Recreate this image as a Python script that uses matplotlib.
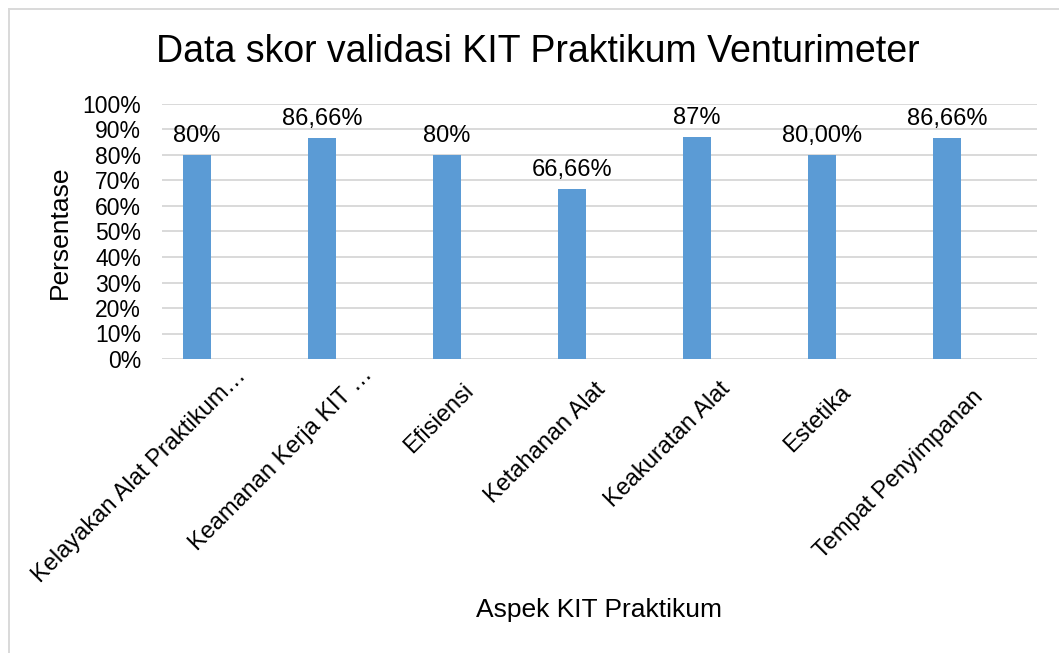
import matplotlib
matplotlib.use("Agg")
import matplotlib.pyplot as plt
from matplotlib.lines import Line2D
from matplotlib.transforms import offset_copy

plt.rcParams['font.family'] = ['Liberation Sans', 'DejaVu Sans']

categories = ["Kelayakan Alat Praktikum…", "Keamanan Kerja KIT …", "Efisiensi",
              "Ketahanan Alat", "Keakuratan Alat", "Estetika", "Tempat Penyimpanan"]
values = [0.80, 0.8666, 0.80, 0.6666, 0.87, 0.80, 0.8666]
value_labels = ["80%", "86,66%", "80%", "66,66%", "87%", "80,00%", "86,66%"]
yticks = [0, 0.1, 0.2, 0.3, 0.4, 0.5, 0.6, 0.7, 0.8, 0.9, 1.0]
ytick_labels = ["0%", "10%", "20%", "30%", "40%", "50%", "60%", "70%", "80%", "90%", "100%"]

# per-label placement offsets (pixels) of the rotated category labels
label_dx = [38, 39, 16, 22, 22, 18, 25]
label_dy = [-6, -5, -21, -20, -19, -22, -27]

W, H = 1059, 653
fig = plt.figure(figsize=(W / 100, H / 100), dpi=100)
ax = fig.add_axes([162 / W, 1 - 359 / H, (1037 - 162) / W, (359 - 104) / H])

x = list(range(len(categories)))
ax.bar(x, values, width=0.224, color="#5B9BD5", zorder=3)
ax.set_xlim(-0.28, 6.72)
ax.set_ylim(0, 1.0)

ax.set_yticks(yticks)
ax.set_yticklabels(ytick_labels, fontsize=16.5)
ax.tick_params(axis='y', length=0, pad=15)
ax.yaxis.grid(True, color="#D9D9D9", linewidth=1.4, zorder=0)
ax.set_axisbelow(True)
for s in ax.spines.values():
    s.set_visible(False)

ax.set_xticks(x)
ax.set_xticklabels([])
ax.tick_params(axis='x', length=0)

for xi, lab, dx, dy in zip(x, categories, label_dx, label_dy):
    tr = offset_copy(ax.get_xaxis_transform(), fig=fig, x=dx, y=dy, units='dots')
    ax.text(xi, 0, lab, transform=tr, rotation=45, rotation_mode='anchor',
            ha='right', va='top', fontsize=17)

for xi, v, lab in zip(x, values, value_labels):
    ax.annotate(lab, (xi, v), xytext=(0, 6), textcoords='offset points',
                ha='center', va='bottom', fontsize=17)

fig.text(538 / W, 1 - 52 / H, "Data skor validasi KIT Praktikum Venturimeter",
         ha='center', va='center', fontsize=27)
fig.text(60 / W, 1 - 232 / H, "Persentase", rotation=90, ha='center', va='center', fontsize=19)
fig.text(599 / W, 1 - 610 / H, "Aspek KIT Praktikum", ha='center', va='center', fontsize=19)

fig.add_artist(Line2D([8.5 / W, 8.5 / W], [0, 1 - 9 / H], transform=fig.transFigure,
                      color="#D9D9D9", linewidth=1.4))
fig.add_artist(Line2D([8.5 / W, 1], [1 - 9 / H, 1 - 9 / H], transform=fig.transFigure,
                      color="#D9D9D9", linewidth=1.4))

fig.savefig("out.png", dpi=100)
